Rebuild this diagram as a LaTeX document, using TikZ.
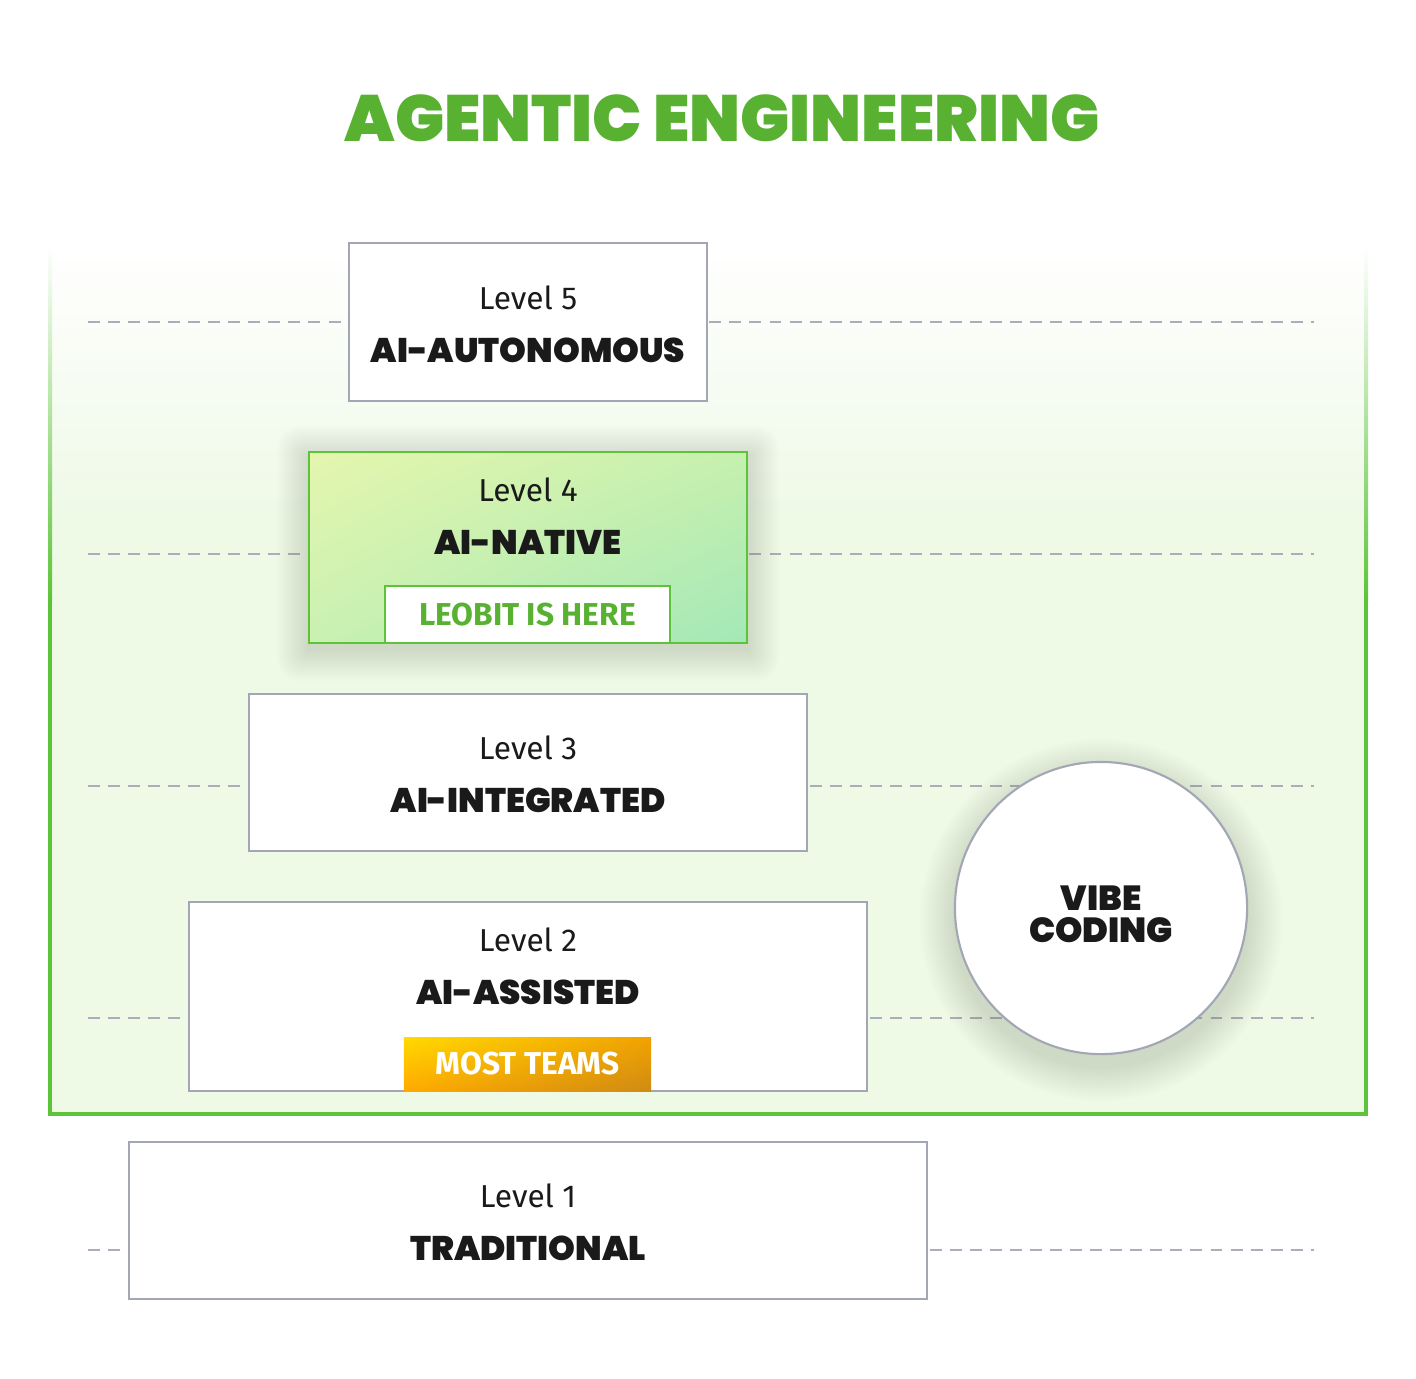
\documentclass[tikz,border=0pt]{standalone}
\usepackage{fontspec}
\setmainfont{Fira Sans}
\newfontfamily\heavyfont{Poppins Black}
\usetikzlibrary{shadings}

\definecolor{titlegreen}{HTML}{58B131}
\definecolor{framegreen}{HTML}{5DC43A}
\definecolor{bggreen}{HTML}{EEF9E6}
\definecolor{boxgray}{HTML}{A3A6B4}
\definecolor{dashgray}{HTML}{ABADBA}
\definecolor{inkblack}{HTML}{1A1A1A}
\definecolor{shadowink}{HTML}{3E5A32}
\definecolor{limeA}{HTML}{E4F6AE}
\definecolor{limeB}{HTML}{C6F0AE}
\definecolor{limeC}{HTML}{C9F1B2}
\definecolor{limeD}{HTML}{A3E8B8}
\definecolor{amberA}{HTML}{FFDA00}
\definecolor{amberB}{HTML}{F2A200}
\definecolor{amberC}{HTML}{FFA900}
\definecolor{amberD}{HTML}{CF8B14}

\tikzset{
  levelbox/.style={draw=boxgray,line width=0.6pt,fill=white,inner sep=0pt},
  leveltxt/.style={font=\fontsize{9}{10}\selectfont,text=inkblack,inner sep=0pt},
  nametxt/.style={font=\heavyfont\fontsize{9.7}{11}\selectfont,text=inkblack,inner sep=0pt},
  guide/.style={dashgray,line width=0.45pt,dash pattern=on 3.4pt off 2.3pt},
  haze/.style={fill=shadowink,opacity=0.008},
}

\begin{document}
\begin{tikzpicture}[x=0.01cm,y=-0.01cm]
\useasboundingbox (0,0) rectangle (1416,1378);

% green frame
\fill[bggreen] (50,520) rectangle (1366,1114);
\shade[top color=white,bottom color=bggreen] (50,245) rectangle (1366,521);
\shade[top color=white,bottom color=framegreen] (48,245) rectangle (52,600);
\shade[top color=white,bottom color=framegreen] (1364,245) rectangle (1368,600);
\fill[framegreen] (48,599) rectangle (52,1116);
\fill[framegreen] (1364,599) rectangle (1368,1116);
\fill[framegreen] (48,1112) rectangle (1368,1116);

\foreach \y in {322,554,786,1018,1250}
  \draw[guide] (88,\y) -- (1314,\y);

\node[font=\heavyfont\fontsize{18.6}{20}\selectfont,text=titlegreen] (title) at (722,118) {AGENTIC ENGINEERING};

% soft shadows
\foreach \i in {1,...,16} {
  \fill[haze,rounded corners=\i*0.4pt] (309-2*\i,458-2*\i) rectangle (747+2*\i,649+2*\i);
  \fill[haze] (1101,920) circle[radius=146+2.2*\i];
}

% level boxes
\node[levelbox,minimum width=3.58cm,minimum height=1.58cm] (l5) at (528,322) {};
\node[levelbox,minimum width=5.58cm,minimum height=1.57cm] (l3) at (528,772.5) {};
\node[levelbox,minimum width=6.78cm,minimum height=1.89cm] (l2) at (528,996.5) {};
\node[levelbox,minimum width=7.98cm,minimum height=1.57cm] (l1) at (528,1220.5) {};
\node[draw=framegreen,line width=0.6pt,inner sep=0pt,
  minimum width=4.38cm,minimum height=1.91cm,
  upper left=limeA,upper right=limeB,lower left=limeC,lower right=limeD]
  (l4) at (528,547.5) {};

\node[leveltxt] (t5) at (528,298) {Level 5};
\node[nametxt] (n5) at (528,350) {AI-AUTONOMOUS};
\node[leveltxt] (t4) at (528,490) {Level 4};
\node[nametxt] (n4) at (528,542) {AI-NATIVE};
\node[leveltxt] (t3) at (528,748) {Level 3};
\node[nametxt] (n3) at (528,800) {AI-INTEGRATED};
\node[leveltxt] (t2) at (528,940) {Level 2};
\node[nametxt] (n2) at (528,992) {AI-ASSISTED};
\node[leveltxt] (t1) at (528,1196) {Level 1};
\node[nametxt] (n1) at (528,1248) {TRADITIONAL};

% badges
\node[draw=framegreen,line width=0.6pt,fill=white,minimum width=2.85cm,minimum height=0.57cm,
  font=\bfseries\fontsize{9}{10}\selectfont,text=titlegreen] (here) at (527.5,614.5) {LEOBIT IS HERE};
\node[minimum width=2.47cm,minimum height=0.54cm,
  upper left=amberA,upper right=amberB,lower left=amberC,lower right=amberD,
  font=\bfseries\fontsize{9}{10}\selectfont,text=white] (most) at (527.5,1064) {MOST TEAMS};

% vibe coding
\node[circle,draw=boxgray,line width=0.6pt,fill=white,minimum size=2.92cm,inner sep=0pt] (vibe) at (1101,908) {};
\node[align=center,inner sep=0pt,font=\heavyfont\fontsize{9.9}{9.1}\selectfont,text=inkblack]
  (vibetxt) at (1101,914) {VIBE\\CODING};
\end{tikzpicture}
\end{document}
